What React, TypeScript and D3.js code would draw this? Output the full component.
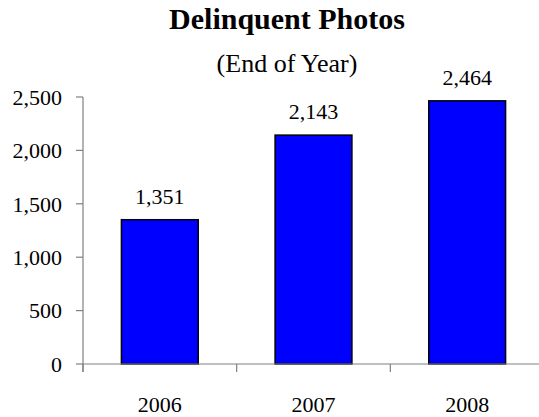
import React, { useEffect, useRef } from "react";
import * as d3 from "d3";

const years = ["2006", "2007", "2008"];
const photos = [1351, 2143, 2464];
const yTicks = [0, 500, 1000, 1500, 2000, 2500];

const W = 539;
const H = 417;

const App = () => {
  const ref = useRef<SVGSVGElement | null>(null);

  useEffect(() => {
    const svg = d3.select(ref.current);
    svg.selectAll("*").remove();

    const left = 83;
    const right = 544;
    const top = 97;
    const bottom = 364;
    const font = "'Liberation Serif', 'Times New Roman', serif";

    const x = d3
      .scaleBand<string>()
      .domain(years)
      .range([left, right])
      .paddingInner(0.5)
      .paddingOuter(0.25);
    const y = d3.scaleLinear().domain([0, 2500]).range([bottom, top]);

    // title
    svg
      .append("text")
      .attr("x", 287)
      .attr("y", 29)
      .attr("text-anchor", "middle")
      .style("font-family", font)
      .style("font-weight", "bold")
      .style("font-size", "30px")
      .text("Delinquent Photos");
    svg
      .append("text")
      .attr("x", 287)
      .attr("y", 72)
      .attr("text-anchor", "middle")
      .style("font-family", font)
      .style("font-size", "26px")
      .text("(End of Year)");

    // bars
    svg
      .append("g")
      .selectAll("rect")
      .data(photos)
      .join("rect")
      .attr("x", (d, i) => x(years[i])!)
      .attr("y", (d) => y(d))
      .attr("width", x.bandwidth())
      .attr("height", (d) => bottom - y(d))
      .attr("fill", "#0000ff")
      .attr("stroke", "#000")
      .attr("stroke-width", 1.5);

    // value labels
    svg
      .append("g")
      .selectAll("text")
      .data(photos)
      .join("text")
      .attr("x", (d, i) => x(years[i])! + x.bandwidth() / 2)
      .attr("y", (d) => y(d) - 16)
      .attr("text-anchor", "middle")
      .style("font-family", font)
      .style("font-size", "22px")
      .text((d) => d3.format(",")(d));

    const axisColor = "#808080";

    // y axis
    const yAxis = svg.append("g");
    yAxis
      .append("line")
      .attr("x1", left)
      .attr("x2", left)
      .attr("y1", top)
      .attr("y2", bottom + 8)
      .attr("stroke", axisColor)
      .attr("stroke-width", 1.2);
    yAxis
      .selectAll("line.tick")
      .data(yTicks)
      .join("line")
      .attr("class", "tick")
      .attr("x1", left - 7)
      .attr("x2", left)
      .attr("y1", (d) => y(d))
      .attr("y2", (d) => y(d))
      .attr("stroke", axisColor)
      .attr("stroke-width", 1.2);
    yAxis
      .selectAll("text")
      .data(yTicks)
      .join("text")
      .attr("x", left - 21)
      .attr("y", (d) => y(d))
      .attr("dy", "0.35em")
      .attr("text-anchor", "end")
      .style("font-family", font)
      .style("font-size", "22px")
      .text((d) => d3.format(",")(d));

    // x axis
    const xAxis = svg.append("g");
    xAxis
      .append("line")
      .attr("x1", left)
      .attr("x2", right)
      .attr("y1", bottom)
      .attr("y2", bottom)
      .attr("stroke", axisColor)
      .attr("stroke-width", 1.2);
    xAxis
      .selectAll("line.tick")
      .data(d3.range(years.length + 1))
      .join("line")
      .attr("class", "tick")
      .attr("x1", (i) => left + i * x.step())
      .attr("x2", (i) => left + i * x.step())
      .attr("y1", bottom)
      .attr("y2", bottom + 8)
      .attr("stroke", axisColor)
      .attr("stroke-width", 1.2);
    xAxis
      .selectAll("text")
      .data(years)
      .join("text")
      .attr("x", (d) => x(d)! + x.bandwidth() / 2)
      .attr("y", 412)
      .attr("text-anchor", "middle")
      .style("font-family", font)
      .style("font-size", "22px")
      .text((d) => d);
  }, []);

  return (
    <svg
      ref={ref}
      width={W}
      height={H}
      style={{ position: "absolute", left: 0, top: 0, background: "#fff" }}
    />
  );
};

export default App;
